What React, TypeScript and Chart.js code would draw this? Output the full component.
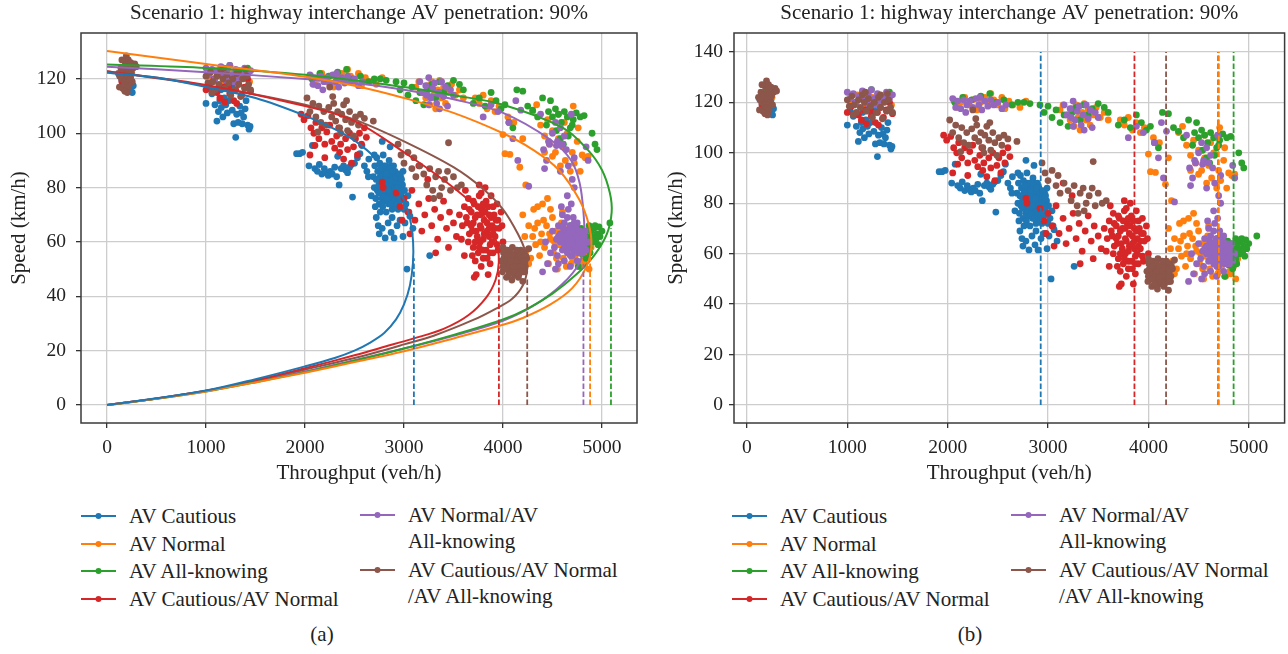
import React, { useEffect, useRef } from "react";
import { Chart, registerables } from "chart.js";

Chart.register(...registerables);

type Pt = [number, number];

const FONT = "'Liberation Serif', 'Times New Roman', serif";

const SERIES = [
  "AV Cautious",
  "AV Normal",
  "AV All-knowing",
  "AV Cautious/AV Normal",
  "AV Normal/AV All-knowing",
  "AV Cautious/AV Normal/AV All-knowing",
];
const COLORS = ["#1f77b4", "#ff7f0e", "#2ca02c", "#d62728", "#9467bd", "#8c564b"];

const TITLE = "Scenario 1: highway interchange AV penetration: 90%";
const X_TITLE = "Throughput (veh/h)";
const Y_TITLE = "Speed (km/h)";

const xTicks = [0, 1000, 2000, 3000, 4000, 5000];
const yTicksA = [0, 20, 40, 60, 80, 100, 120];
const yTicksB = [0, 20, 40, 60, 80, 100, 120, 140];

// max-throughput (capacity) markers
const capacityA = [3100, 4880, 5091, 3959, 4813, 4245];
const capacitySpeedA = [54, 55, 65, 51, 52, 47];
const capacityB = [2927, 4702, 4849, 3861, 4694, 4176];
const capacityTopB = 140;

// observed points (throughput, speed)
const cautiousPts: Pt[] = [
  [130,121],[150,119.5],[170,122],[190,120],[210,117],[220,119.5],[235,116],[245,118],[255,115],[265,117.5],[200,122.5],[240,121],
  [1000,111],[1030,116.5],[1060,114.5],[1090,110.5],[1110,104.5],[1125,108],[1140,112],[1155,109.5],[1170,106],[1185,113],[1200,110.5],[1215,107.5],[1230,112],[1245,115],[1265,108.5],[1280,103.5],[1300,98.5],[1310,107],[1325,104],[1340,110],[1355,107.5],[1365,103.5],[1380,106],[1395,109],[1405,112],[1420,103],[1435,101.5],[1445,102.5],[1150,116],[1265,117],
  [1915,92.5],[1945,92.5],[1975,93],[2040,88],[2075,95.5],[2100,87],[2125,86],[2145,88.5],[2170,85],[2195,87],[2215,85.5],[2235,84.5],[2255,86],[2275,85],[2300,87.5],[2320,84],[2345,81],[2330,91.5],[2365,87],[2390,88],[2410,86.5],[2430,85.5],[2450,87.5],[2470,88.5],[2480,76.5],[2500,89],[2530,91],[2555,92.5],[2575,95.5],[2600,88],[2625,86],[2645,90.5],
  [2690,84],[2700,80],[2705,88],[2715,76],[2720,83],[2730,79],[2735,86],[2745,81],[2750,74],[2755,89],[2760,84],[2765,78],[2770,81],[2775,86],[2780,76],[2785,83],[2790,79],[2795,88],[2800,82],[2805,75],[2810,85],[2815,80],[2820,77],[2825,83],[2830,87],[2835,79],[2840,82],[2845,74],[2850,85],[2855,80],[2860,77],[2865,83],[2870,88],[2875,79],[2880,82],[2885,75],[2890,85],[2895,80],[2900,78],[2905,83],[2910,86],[2915,76],[2920,81],[2925,79],[2930,84],[2940,77],[2945,82],[2950,80],[2960,75],[2965,84],[2975,78],[2985,81],[2995,76],[3005,79],[3020,74],[2725,91],[2790,92],[2850,90],[2880,72],[2940,72],[2760,71],[2820,71],[2990,86],[2910,73],
  [2770,80],[2780,84],[2790,77],[2800,86],[2810,79],[2820,83],[2830,76],[2840,85],[2850,78],[2860,81],[2870,85],[2880,78],[2890,82],[2900,75],[2910,80],[2920,84],[2930,77],[2940,81],[2950,85],[2960,79],[2835,81],[2815,88],[2865,74],[2895,88],[2925,74],[2855,87],[2785,73],[2745,78],[2755,83],[2975,83],[2800,79],[2845,79],[2875,82],[2905,78],[2935,80],[2825,85],[2795,82],[2885,86],[2955,76],[2765,87],
  [2700,92],[2780,97],[2860,95],[2640,84],[2670,77],[3040,77],[3050,71],[2720,69],[2750,63],[2780,65],[2810,61.5],[2840,67],[2870,63.5],[2900,61.5],[2930,66],[2960,68],[2990,62],[3010,67],[3060,69.5],[3090,65],[2740,66],[2880,69],[3030,50],[3260,55],[2710,73],[3000,72],
];

const normalPts: Pt[] = [
  [150,121],[190,124],[220,120],[250,122],[180,118],
  [1020,121],[1100,123],[1180,119],[1250,122],[1320,120],[1400,123],[1440,119],
  [2060,121],[2095,118],[2130,120],[2170,122],[2210,119],[2250,121],[2290,117],[2330,120],[2370,122],[2410,119],[2430,123.5],[2460,121],[2500,119],[2540,122],[2570,117.5],[2610,120.5],[2650,119],[2720,118],[2780,120.5],
  [3120,117],[3150,119],[3190,115],[3220,113],[3240,117.5],[3260,110.5],[3280,119],[3300,114],[3320,109],[3340,116],[3360,119.5],[3380,113],[3400,117],[3420,111],[3450,115],[3480,118],[3520,114],[3560,116],[3600,113],
  [3720,113],[3760,111],[3800,114],[3840,109],[3880,112],[3920,108],[3960,110],[4000,99.5],[4020,92.5],[4070,92.2],[4050,106],[4110,104],[4170,87.5],[4230,81],[4200,98],
  [4300,108],[4340,110.5],[4380,103],[4420,99],[4450,105],[4470,96],[4500,101],[4530,93],[4560,98],[4580,88],[4600,95],[4630,90],[4650,100],[4680,86],[4700,93],[4720,89],[4750,97],[4780,86],[4800,92],[4830,91],[4860,91.5],[4560,107],[4620,104],[4710,110],[4760,102],[4500,91.5],[4420,93],
  [4200,70],[4220,62],[4240,57],[4260,66],[4280,54],[4300,62],[4310,72],[4330,59],[4350,67],[4370,55],[4390,63],[4400,74],[4420,58],[4440,66],[4460,52],[4480,61],[4500,69],[4510,56],[4530,64],[4550,50],[4570,59],[4590,67],[4610,54],[4630,61],[4650,57],[4670,65],[4690,52],[4710,59],[4730,55],[4750,63],[4770,51],[4790,57],[4810,53],[4830,60],[4850,55],[4870,50],[4890,58],[4450,76],[4350,73],[4480,72],[4600,71],[4260,52],
  [4320,65],[4380,60],[4410,68],[4470,63],[4520,60],[4560,64],[4640,51],[4700,54],[4760,57],[4820,52],[4860,58],[4540,54],
];

const allKnowingPts: Pt[] = [
  [160,123],[200,125],[230,121],
  [1050,123],[1150,124],[1240,125],[1330,122],[1420,124],
  [2070,120],[2150,122],[2240,121],[2330,122.5],[2420,123.5],[2480,120],[2560,121],[2640,119],[2700,120],[2760,120],[2820,119.5],
  [2920,119],[2960,116],[3000,118.5],[3040,114],[3080,117],[3120,112],[3160,115],[3200,110.5],[3240,116],[3280,118],[3320,113],[3360,119],[3400,115],[3440,117.5],[3500,119.5],[3560,118],[3600,116],
  [3700,111],[3760,113],[3820,110],[3880,115],[3930,112],[3980,109],[4020,110.5],[4060,104],[4100,102],[4140,116],[4200,115.5],[4250,110],[4300,108.5],[4350,106],[4400,113],[4440,103],
  [4460,108],[4500,106],[4530,109],[4560,107],[4590,104],[4620,108],[4650,106],[4680,102],[4710,105],[4740,107.5],[4780,106],[4820,106.5],[4540,101],[4580,98],[4610,96],[4660,99],[4700,103],[4900,100],[4930,96],[4950,94],[4480,112],
  [4680,66],[4720,63],[4760,60],[4790,65],[4820,58],[4850,62],[4870,66],[4890,64],[4910,60],[4930,66],[4950,63],[4970,65.5],[5000,64],[5080,67],[4840,54],[4880,56],[4760,51],[4800,55.5],[4940,61],[4700,58],[4960,59],
  [4830,64],[4860,60],[4900,62],[4920,65],[4980,62],[4870,58],[4740,66],[4810,61],
];

const cautiousNormalPts: Pt[] = [
  [150,119],[195,116],[215,118.5],[230,121],[175,122],
  [1000,116],[1040,118.5],[1080,120],[1110,115],[1140,113],[1170,117],[1190,111.5],[1210,119],[1240,114.5],[1260,121],[1280,112],[1300,116],[1330,118],[1360,114],[1390,117],[1420,120],[1450,115.5],[1130,121.5],[1230,117],[1310,111],
  [1960,107],[1990,105],[2030,106.5],[2060,102],[2090,100],[2110,104],[2140,98],[2170,102],[2200,96],[2220,100.5],[2250,103],[2270,97],[2300,94.5],[2320,99],[2340,102],[2360,96],[2390,90.5],[2410,98],[2430,94],[2450,100],[2470,89],[2490,95],[2510,98],[2530,92],[2550,100],[2570,96],[2600,102],[2620,98.5],[2200,91],[2100,95.5],[2050,92],[2350,93],
  [2780,82],[2790,80],
  [2920,78],[2960,73],[3000,76],[3040,71],[3080,79],[3110,68],[3150,74],[3180,64],[3210,70],[3250,76],[3280,66],[3310,72],[3340,61],[3370,69],[3400,75],[3430,65],[3460,71],[3500,67],[3530,62],[3240,83],[3150,88],[3060,63],[3320,56],[3450,58],[2980,68],
  [3560,70],[3590,66],[3610,73],[3630,69],[3650,76],[3660,63],[3680,71],[3700,67],[3710,74],[3730,64],[3740,70],[3760,77],[3770,66],[3790,72],[3800,61],[3810,68],[3830,75],[3840,64],[3860,70],[3870,59],[3890,66],[3900,73],[3920,62],[3930,68],[3950,57],[3960,65],[3980,71],[4000,60],[3700,58],[3720,53],[3730,48],[3750,56],[3780,51],[3800,57],[3840,54],[3870,52],[3900,56],[3650,60],[3690,55],[3760,81],[3820,80],[3880,77],[3620,79],[3580,61],[3940,74],[3990,66],[3770,60],[3850,48],[3710,47],[3610,55],
  [3660,72],[3680,66],[3700,75],[3720,69],[3740,62],[3750,73],[3770,70],[3780,65],[3800,74],[3810,63],[3820,71],[3840,67],[3850,73],[3860,62],[3880,69],[3890,60],[3910,70],[3920,65],[3940,59],[3950,68],[3720,60],[3760,58],[3800,54],[3830,57],[3870,56],[3690,64],[3640,67],[3780,78],[3860,65],[3900,63],
];

const normalAllPts: Pt[] = [
  [170,121],[200,123],[225,119],[190,118],
  [1000,124],[1030,121.5],[1060,123.5],[1090,120],[1120,122.5],[1150,124.5],[1180,121],[1210,123],[1240,125],[1270,121.5],[1300,123.5],[1330,120.5],[1360,122],[1390,124],[1420,121.5],[1450,123],[1280,119],[1200,119.5],
  [2050,121.5],[2080,118],[2100,120.5],[2130,117.5],[2160,121],[2190,119],[2220,120.5],[2250,118],[2280,121.5],[2310,119],[2340,117],[2370,120.5],[2400,118.5],[2430,121],[2460,119],[2500,120],[2540,117.5],[2580,119],[2180,116],[2320,122],
  [3160,119],[3190,115],[3220,117.5],[3250,120.5],[3270,113],[3290,116.5],[3310,118.5],[3330,111],[3350,115],[3380,119],[3400,113.5],[3420,117],[3440,110],[3470,116],[3500,114],[3250,110.5],[3360,109],[3230,114],
  [3800,106],[3880,110.5],[3950,108],[4180,108.5],[4130,112],[4100,98],[4150,90],[4260,80.5],[4060,104],
  [4380,107],[4410,94],[4440,90],[4470,96],[4500,100],[4530,104],[4550,97],[4580,102],[4600,96],[4620,99],[4640,94],[4660,88],[4690,107],[4720,91],[4580,86],[4700,83],[4720,80],[4840,95],[4860,90],[4420,87],[4460,97],[4540,95.5],[4650,77],[4690,74],
  [4500,64],[4520,58],[4540,61],[4550,55],[4560,66],[4580,60],[4590,63],[4600,57],[4610,62],[4620,67],[4630,59],[4640,64],[4650,56],[4660,61],[4670,65],[4680,58],[4690,62],[4700,55],[4710,60],[4720,64],[4730,57],[4740,61],[4750,53],[4760,59],[4770,63],[4780,56],[4790,60],[4800,58],[4820,62],[4840,57],[4860,60],[4600,70],[4650,69],[4710,69],[4560,52],[4620,53],[4680,51],[4480,56],[4430,60],[4400,49],[4450,52],[4530,50],[4590,73],[4700,66],[4750,67],[4660,72],
  [4580,63],[4600,60],[4610,65],[4630,62],[4640,58],[4660,63],[4670,59],[4680,66],[4690,60],[4700,63],[4710,57],[4720,59],[4730,62],[4740,65],[4750,60],[4760,56],[4770,61],[4780,64],[4790,58],[4800,61],[4810,56],[4820,59],[4650,61],[4700,61],[4620,58],[4740,58],[4680,55],[4560,62],[4830,64],[4720,67],
];

const all3Pts: Pt[] = [
  [115,122],[125,117],[140,124],[150,120],[160,116.5],[165,123],[175,119],[185,126],[190,121.5],[195,128.5],[200,118],[205,124],[210,121],[215,127],[220,117],[225,123.5],[235,120],[245,122.5],[255,119],[265,124],[280,125.5],[295,124.5],[180,115.5],[205,115],[240,126],[150,127],[130,121],
  [1000,121],[1020,118.5],[1045,122.5],[1070,119],[1090,116],[1110,121],[1130,118],[1150,123],[1170,120],[1190,116.5],[1210,121.5],[1230,118.5],[1250,114],[1270,120],[1290,116],[1310,122],[1330,118],[1350,113.5],[1370,120],[1390,116.5],[1410,121],[1430,118],[1450,116],[1180,124],[1330,123],[1060,115],[1400,123.5],
  [2020,113],[2050,108],[2080,111],[2110,106],[2140,110],[2160,104],[2190,108],[2210,103],[2240,109.5],[2250,117],[2270,106],[2290,111],[2310,104.5],[2330,108],[2350,102],[2370,107],[2390,110.5],[2410,105],[2430,101],[2450,108],[2470,104],[2490,99],[2510,106],[2540,103],[2560,107],[2600,105.5],[2690,104.5],[2280,113.5],[2420,112],[2130,100.5],[2360,100],
  [2940,96],[2970,92],[3000,89],[3040,93],[3080,87],[3120,84],[3160,88],[3200,85],[3230,81],[3260,87],[3290,79],[3320,84],[3350,86],[3380,80],[3410,83],[3440,86],[3470,79],[3500,84],[3540,80],[3580,81],[3450,96.5],[3300,76],[3360,77],[3100,91],
  [3985,53],[3995,49],[4005,56],[4015,51],[4025,54],[4035,47],[4045,57],[4055,52],[4065,49],[4075,55],[4085,51],[4095,58],[4105,53],[4115,48],[4125,55],[4135,51],[4145,56],[4155,47],[4165,53],[4175,50],[4185,55],[4195,52],[4205,49],[4215,56],[4225,51],[4240,54],[4060,54],[4120,52],[4180,57],[4090,46],[4150,50],[4030,52],[4200,45.5],[4260,57.5],[4000,58],
  [4000,51],[4010,54],[4020,57],[4040,50],[4050,55],[4070,52],[4080,56],[4100,50],[4110,55],[4130,49],[4140,53],[4160,55],[4170,51],[4190,54],[4200,51],[4210,53],[4230,55],[4060,48],[4110,51],[4160,48],[4220,49],[4080,53],[4140,57],[4040,55],[4190,49],
];

// fitted speed-throughput curves (panel a)
const cautiousCurve: Pt[] = [
  [0,122.3],[500,120.5],[1000,117],[1500,113],[2000,106.5],[2300,101.5],[2550,96],[2800,87.5],[2980,77],[3060,68.5],[3092,60],[3090,52],[3060,44],[3000,37],[2920,31.5],[2800,26.5],[2650,22.8],[2500,20],[2300,17.3],[2000,14.2],[1500,9.5],[1000,5.3],[500,2.5],[0,0],
];
const normalCurve: Pt[] = [
  [0,130.3],[1000,125.5],[2000,120.8],[2500,117.5],[3000,113],[3500,107.5],[4000,100],[4300,94],[4564,86.5],[4772,75.5],[4870,66],[4893,58.5],[4845,51],[4700,43],[4480,37],[4200,32],[4000,29.5],[3500,24.5],[3000,19.8],[2500,15.8],[2000,11.9],[1500,8.3],[1000,5],[500,2.3],[0,0],
];
const allKnowingCurve: Pt[] = [
  [0,125.3],[1000,124],[2000,121.5],[3000,117],[3500,114],[4000,110.5],[4606,102],[4855,94],[5000,86.5],[5080,78],[5098,71],[5050,63],[4920,55],[4740,48],[4500,41],[4250,35.5],[4000,31.5],[3500,25.8],[3000,20.8],[2500,16.3],[2000,12.1],[1500,8.4],[1000,5],[500,2.3],[0,0],
];
const cautiousNormalCurve: Pt[] = [
  [0,122.8],[1000,117.8],[2000,110],[2500,104.5],[3000,93],[3485,80.4],[3800,70],[3935,60],[3958,52.5],[3925,46],[3830,39.5],[3650,33],[3400,28],[3100,24.5],[2760,21],[2500,18.3],[2000,13.5],[1500,9],[1000,5.2],[500,2.4],[0,0],
];
const normalAllCurve: Pt[] = [
  [0,124.5],[1000,122.5],[2000,120],[2500,118.5],[3000,116],[3500,112.5],[4000,107.5],[4481,97.6],[4689,90],[4775,81.6],[4815,70],[4820,61],[4775,52.5],[4600,44.5],[4330,37],[4000,31],[3500,25.5],[3000,20.8],[2500,16.5],[2000,12.3],[1500,8.6],[1000,5.1],[500,2.4],[0,0],
];
const all3Curve: Pt[] = [
  [0,122.8],[1000,117.5],[2000,110.5],[2500,105],[3000,97],[3500,87.5],[3800,79.5],[4000,72],[4150,63],[4230,56],[4245,50],[4200,44],[4090,39],[3930,35.5],[3700,31.3],[3300,25.5],[3000,22.3],[2760,19.8],[2500,17.3],[2000,13],[1500,8.8],[1000,5.2],[500,2.4],[0,0],
];

const scatterSets = [cautiousPts, normalPts, allKnowingPts, cautiousNormalPts, normalAllPts, all3Pts];
const curveSets = [cautiousCurve, normalCurve, allKnowingCurve, cautiousNormalCurve, normalAllCurve, all3Curve];

const legendLines: string[][] = [
  ["AV Cautious"],
  ["AV Normal"],
  ["AV All-knowing"],
  ["AV Cautious/AV Normal"],
  ["AV Normal/AV", "All-knowing"],
  ["AV Cautious/AV Normal", "/AV All-knowing"],
];

const framePlugin = {
  id: "frame",
  afterDraw(chart: any) {
    const { ctx, chartArea: a } = chart;
    ctx.save();
    ctx.strokeStyle = "#3a3a3a";
    ctx.lineWidth = 1.5;
    ctx.strokeRect(a.left, a.top, a.right - a.left, a.bottom - a.top);
    ctx.restore();
  },
};

function buildConfig(isA: boolean): any {
  const datasets: any[] = [];
  scatterSets.forEach((pts, i) => {
    datasets.push({
      label: SERIES[i],
      data: pts.map(([x, y]) => ({ x, y })),
      backgroundColor: COLORS[i],
      borderWidth: 0,
      pointRadius: 3.4,
      pointHoverRadius: 3.4,
      showLine: false,
      order: 10 - i,
    });
  });
  if (isA) {
    curveSets.forEach((pts, i) => {
      datasets.push({
        label: SERIES[i] + " fit",
        data: pts.map(([x, y]) => ({ x, y })),
        borderColor: COLORS[i],
        borderWidth: 2,
        pointRadius: 0,
        showLine: true,
        tension: 0.35,
        fill: false,
        order: 2,
      });
    });
  }
  const caps = isA ? capacityA : capacityB;
  caps.forEach((c, i) => {
    const top = isA ? capacitySpeedA[i] : capacityTopB;
    datasets.push({
      label: SERIES[i] + " max",
      data: [
        { x: c, y: 0 },
        { x: c, y: top },
      ],
      borderColor: COLORS[i],
      borderWidth: 1.8,
      borderDash: [5.5, 2.5],
      pointRadius: 0,
      showLine: true,
      fill: false,
      order: 1,
    });
  });

  const yTicks = isA ? yTicksA : yTicksB;
  return {
    type: "scatter",
    data: { datasets },
    plugins: [framePlugin],
    options: {
      responsive: false,
      animation: false,
      devicePixelRatio: 1,
      events: [],
      layout: { padding: { left: 0, right: isA ? 7 : 1, top: 0, bottom: 0 } },
      plugins: {
        legend: { display: false },
        tooltip: { enabled: false },
        title: {
          display: true,
          text: TITLE,
          fullSize: false,
          color: "#222",
          font: { family: FONT, size: 21, weight: "normal" },
          padding: { top: 1, bottom: 6.8 },
        },
      },
      scales: {
        x: {
          type: "linear",
          min: isA ? -263 : -129,
          max: isA ? 5354 : 5357,
          afterBuildTicks: (s: any) => {
            s.ticks = xTicks.map((v) => ({ value: v }));
          },
          afterFit: (s: any) => {
            s.height = 67;
          },
          grid: { color: "#cdcdcd", lineWidth: 1.3, tickLength: 5, tickColor: "#333", tickWidth: 1.3 },
          border: { display: false },
          ticks: {
            autoSkip: false,
            maxRotation: 0,
            padding: 8,
            color: "#222",
            font: { family: FONT, size: 19.5 },
            callback: (v: any) => String(v),
          },
          title: {
            display: true,
            text: X_TITLE,
            color: "#222",
            font: { family: FONT, size: 21 },
            padding: { top: 0, bottom: 4.4 },
          },
        },
        y: {
          type: "linear",
          min: isA ? -6.63 : -7.14,
          max: isA ? 136.9 : 147.5,
          afterBuildTicks: (s: any) => {
            s.ticks = yTicks.map((v) => ({ value: v }));
          },
          afterFit: (s: any) => {
            s.width = isA ? 81 : 90;
          },
          grid: { color: "#cdcdcd", lineWidth: 1.3, tickLength: 5, tickColor: "#333", tickWidth: 1.3 },
          border: { display: false },
          ticks: {
            autoSkip: false,
            padding: isA ? 10 : 6,
            color: "#222",
            font: { family: FONT, size: 19.5 },
            callback: (v: any) => String(v),
          },
          title: {
            display: true,
            text: Y_TITLE,
            color: "#222",
            font: { family: FONT, size: 21 },
            padding: { top: isA ? 6.4 : 19.4, bottom: 0 },
          },
        },
      },
    },
  };
}

function Marker({ color }: { color: string }) {
  return (
    <svg width={35} height={10} style={{ display: "block" }}>
      <line x1={0} y1={5} x2={35} y2={5} stroke={color} strokeWidth={1.8} />
      <circle cx={17.5} cy={5} r={3} fill={color} />
    </svg>
  );
}

function Legend({ offset }: { offset: number }) {
  const col1Rows = [516, 543.5, 571, 599];
  const col2Rows = [
    [515, 541],
    [570, 596],
  ];
  const items: React.ReactNode[] = [];
  const textStyle = (left: number, cy: number): React.CSSProperties => ({
    position: "absolute",
    left,
    top: cy - 12,
    lineHeight: "24px",
    fontSize: 21,
    whiteSpace: "nowrap",
    color: "#222",
  });
  for (let i = 0; i < 4; i++) {
    const cy = col1Rows[i];
    items.push(
      <div key={"m" + i} style={{ position: "absolute", left: offset + 81, top: cy - 5 }}>
        <Marker color={COLORS[i]} />
      </div>
    );
    items.push(
      <div key={"t" + i} style={textStyle(offset + 129, cy)}>
        {legendLines[i][0]}
      </div>
    );
  }
  for (let j = 0; j < 2; j++) {
    const i = 4 + j;
    const rows = col2Rows[j];
    items.push(
      <div key={"m" + i} style={{ position: "absolute", left: offset + 360, top: rows[0] - 5 }}>
        <Marker color={COLORS[i]} />
      </div>
    );
    legendLines[i].forEach((line, k) => {
      items.push(
        <div key={"t" + i + "_" + k} style={textStyle(offset + 408, rows[k])}>
          {line}
        </div>
      );
    });
  }
  return <>{items}</>;
}

export default function App() {
  const refA = useRef<HTMLCanvasElement | null>(null);
  const refB = useRef<HTMLCanvasElement | null>(null);

  useEffect(() => {
    const charts: Chart[] = [];
    if (refA.current) charts.push(new Chart(refA.current, buildConfig(true)));
    if (refB.current) charts.push(new Chart(refB.current, buildConfig(false)));
    return () => charts.forEach((c) => c.destroy());
  }, []);

  return (
    <div
      style={{
        position: "absolute",
        left: 0,
        top: 0,
        width: 1288,
        height: 654,
        background: "#fff",
        fontFamily: FONT,
        overflow: "hidden",
      }}
    >
      <canvas ref={refA} width={644} height={490} style={{ position: "absolute", left: 0, top: 0 }} />
      <canvas ref={refB} width={644} height={490} style={{ position: "absolute", left: 644, top: 0 }} />
      <Legend offset={0} />
      <Legend offset={651} />
      <div style={{ position: "absolute", left: 0, width: 644, top: 622, textAlign: "center", fontSize: 21, lineHeight: "24px", color: "#222" }}>
        (a)
      </div>
      <div style={{ position: "absolute", left: 648, width: 644, top: 622, textAlign: "center", fontSize: 21, lineHeight: "24px", color: "#222" }}>
        (b)
      </div>
    </div>
  );
}
